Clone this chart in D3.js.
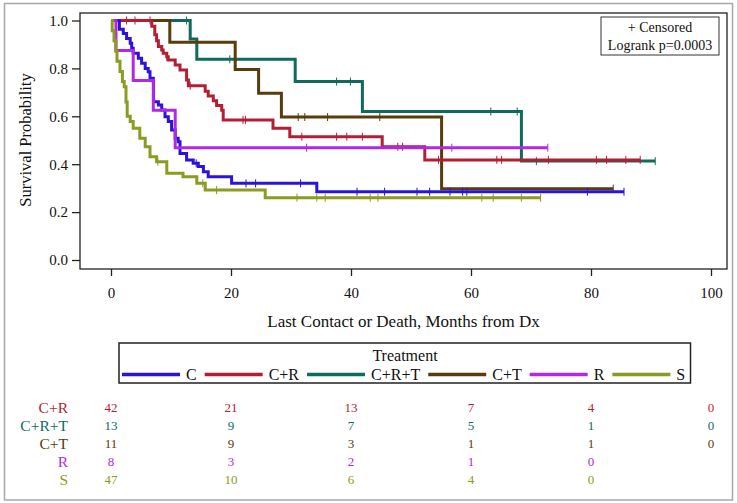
<!DOCTYPE html>
<html><head><meta charset="utf-8">
<script src="https://cdn.jsdelivr.net/npm/d3@7"></script>
<style>
html,body{margin:0;padding:0;background:#fff;}
svg{display:block;}
svg text{font-family:"Liberation Serif","Times New Roman",serif;}
</style></head>
<body><svg id="chart" width="737" height="503"></svg>
<script>
// ---------------- data ----------------
const groups = ["C", "C+R", "C+R+T", "C+T", "R", "S"];
// step points: [time of drop, survival after drop]
const stepsC = [[1.4,0.963],[2.05,0.946],[2.6,0.925],[3.2,0.905],[3.45,0.884],[3.7,0.863],[4.55,0.842],[5.1,0.821],[5.7,0.80],[6.2,0.786],[6.5,0.759],[7.05,0.745],[7.1,0.661],[7.9,0.647],[8.45,0.626],[9.0,0.598],[9.55,0.578],[10.1,0.543],[10.7,0.508],[11.2,0.494],[11.5,0.445],[12.6,0.418],[13.7,0.404],[14.55,0.39],[15.4,0.369],[16.2,0.348],[20.1,0.32],[34.3,0.285]];
const stepsCR = [[6.8,0.976],[7.3,0.94],[7.6,0.915],[7.9,0.891],[8.45,0.877],[8.7,0.863],[9.3,0.849],[9.55,0.835],[10.7,0.814],[11.5,0.793],[12.6,0.752],[12.9,0.728],[15.7,0.705],[16.2,0.685],[17.05,0.665],[17.6,0.645],[18.45,0.625],[18.7,0.585],[27.0,0.55],[29.8,0.515],[45.2,0.473],[52.3,0.418]];
const stepsCRT = [[13.2,0.923],[14.3,0.838],[30.7,0.745],[41.9,0.62],[68.4,0.413]];
const stepsCT = [[9.8,0.909],[20.7,0.795],[24.6,0.696],[28.4,0.597],[55.1,0.298]];
const stepsR = [[0.83,0.875],[3.7,0.75],[7.05,0.625],[10.7,0.469]];
const stepsS = [[0.2,0.957],[0.5,0.915],[0.8,0.872],[1.0,0.83],[1.5,0.787],[1.9,0.745],[2.2,0.723],[2.5,0.66],[2.7,0.6],[3.2,0.578],[3.7,0.55],[4.8,0.508],[5.7,0.473],[6.5,0.431],[7.6,0.41],[9.3,0.362],[12.0,0.348],[14.3,0.32],[15.7,0.292],[25.7,0.26]];
// last follow-up time
const lastTime = {"C":85.5, "C+R":88.2, "C+R+T":90.7, "C+T":83.7, "R":72.8, "S":71.6};
// censored times
const censorC = [14.2,22.5,24.1,31.6,41,45.6,51,53.1,56.5,58.6,59.3,79.4,85.5];
const censorCR = [2.6,4.0,6.5,9.3,13.2,22.0,22.4,31.8,37.6,39.3,41.9,47.8,48.6,54.6,64.3,65.1,72.9,80.9,82.6,85.8,88.2];
const censorCRT = [12.6,19.8,37.6,39.9,63.3,67.7,70.9,90.7];
const censorCT = [31.2,32.3,36.1,44.8,83.7];
const censorR = [32.6,56.8,72.8];
const censorS = [7.8,15.3,17.6,31,34.3,35.7,43.2,44.5,61.8,63.7,68.4,71.6];
// number at risk table
const riskTimes = [0, 20, 40, 60, 80, 100];
const riskGroups = ["C+R", "C+R+T", "C+T", "R", "S"];
const riskCR = [42, 21, 13, 7, 4, 0];
const riskCRT = [13, 9, 7, 5, 1, 0];
const riskCT = [11, 9, 3, 1, 1, 0];
const riskR = [8, 3, 2, 1, 0];
const riskS = [47, 10, 6, 4, 0];
const xTicks = [0, 20, 40, 60, 80, 100];
const yTicks = [0, 0.2, 0.4, 0.6, 0.8, 1.0];
const legendTitle = "Treatment";
const pValueText = "Logrank p=0.0003";

// ---------------- styles ----------------
const colors = {"C":"#2a14d8","C+R":"#b41e34","C+R+T":"#0f6b5c","C+T":"#5a3b0c","R":"#b02ae6","S":"#8c9b22"};
const steps = {"C":stepsC,"C+R":stepsCR,"C+R+T":stepsCRT,"C+T":stepsCT,"R":stepsR,"S":stepsS};
const censors = {"C":censorC,"C+R":censorCR,"C+R+T":censorCRT,"C+T":censorCT,"R":censorR,"S":censorS};
const risks = {"C+R":riskCR,"C+R+T":riskCRT,"C+T":riskCT,"R":riskR,"S":riskS};
const drawOrder = ["C+R+T","C+T","C+R","C","R","S"];

const svg = d3.select("#chart");
const frame = {left:80, right:727, top:13, bottom:269};
const x = d3.scaleLinear().domain([0,100]).range([111,711]);
const y = d3.scaleLinear().domain([0,1]).range([260,20.5]);

// outer border
svg.append("rect").attr("x",4.5).attr("y",3.5).attr("width",728).attr("height",496.5)
  .attr("fill","none").attr("stroke","#a8a8a8").attr("stroke-width",1.5);

// curves
function survAt(g, t){
  let s = 1;
  for (const [tt, ss] of steps[g]) { if (tt <= t) s = ss; }
  return s;
}
const line = d3.line().x(d=>x(d[0])).y(d=>y(d[1])).curve(d3.curveStepAfter);
const plot = svg.append("g");
drawOrder.forEach(g=>{
  const st = steps[g];
  const pts = [[0,1]].concat(st).concat([[lastTime[g], st[st.length-1][1]]]);
  plot.append("path").attr("d", line(pts)).attr("fill","none")
    .attr("stroke", colors[g]).attr("stroke-width",3).attr("stroke-linejoin","miter");
  plot.selectAll(null).data(censors[g]).enter().append("line")
    .attr("x1", d=>x(d)).attr("x2", d=>x(d))
    .attr("y1", d=>y(survAt(g,d))-4).attr("y2", d=>y(survAt(g,d))+4)
    .attr("stroke", colors[g]).attr("stroke-width",1);
});

// frame
svg.append("rect").attr("x",frame.left).attr("y",frame.top)
  .attr("width",frame.right-frame.left).attr("height",frame.bottom-frame.top)
  .attr("fill","none").attr("stroke","#222").attr("stroke-width",1.3);

// axes
const yAxis = svg.append("g").attr("transform",`translate(${frame.left},0)`)
  .call(d3.axisLeft(y).tickValues(yTicks).tickFormat(d3.format(".1f")).tickSize(8).tickPadding(4));
const xAxis = svg.append("g").attr("transform",`translate(0,${frame.bottom})`)
  .call(d3.axisBottom(x).tickValues(xTicks).tickSize(7).tickPadding(11));
[yAxis, xAxis].forEach(a=>{
  a.attr("font-family",null).attr("font-size",null);
  a.select(".domain").remove();
  a.selectAll(".tick line").attr("stroke","#222").attr("stroke-width",1.3);
  a.selectAll(".tick text").attr("font-size",15).attr("fill","#111");
});

svg.append("text").attr("transform","translate(31,140) rotate(-90)")
  .attr("text-anchor","middle").attr("font-size",16.5).attr("fill","#111").text("Survival Probability");
svg.append("text").attr("x",403.5).attr("y",327).attr("text-anchor","middle")
  .attr("font-size",17).attr("fill","#111").text("Last Contact or Death, Months from Dx");

// censored / p-value box
svg.append("rect").attr("x",601).attr("y",17).attr("width",118).attr("height",38)
  .attr("fill","#fff").attr("stroke","#333").attr("stroke-width",1);
svg.append("text").attr("x",660).attr("y",32).attr("text-anchor","middle").attr("font-size",14).attr("fill","#111").text("+ Censored");
svg.append("text").attr("x",660).attr("y",50).attr("text-anchor","middle").attr("font-size",14).attr("fill","#111").text(pValueText);

// treatment legend
svg.append("rect").attr("x",119).attr("y",343).attr("width",571.5).attr("height",40)
  .attr("fill","none").attr("stroke","#222").attr("stroke-width",1.5);
svg.append("text").attr("x",405).attr("y",361).attr("text-anchor","middle").attr("font-size",16).attr("fill","#111").text(legendTitle);
let lx = 122;
groups.forEach(g=>{
  svg.append("line").attr("x1",lx).attr("x2",lx+58).attr("y1",374.5).attr("y2",374.5)
    .attr("stroke",colors[g]).attr("stroke-width",3.5);
  const t = svg.append("text").attr("x",lx+64).attr("y",380).attr("font-size",16).attr("fill","#111").text(g);
  lx = lx + 64 + t.node().getComputedTextLength() + 8;
});

// number at risk
riskGroups.forEach((g,i)=>{
  const yy = 412.5 + i*18.1;
  svg.append("text").attr("x",68).attr("y",yy).attr("text-anchor","end")
    .attr("font-size",15.5).attr("fill",colors[g]).text(g);
  svg.selectAll(null).data(risks[g]).enter().append("text")
    .attr("x",(d,j)=>x(riskTimes[j])).attr("y",yy-0.5).attr("text-anchor","middle")
    .attr("font-size",13).attr("fill",colors[g]).text(d=>d);
});
</script></body></html>
